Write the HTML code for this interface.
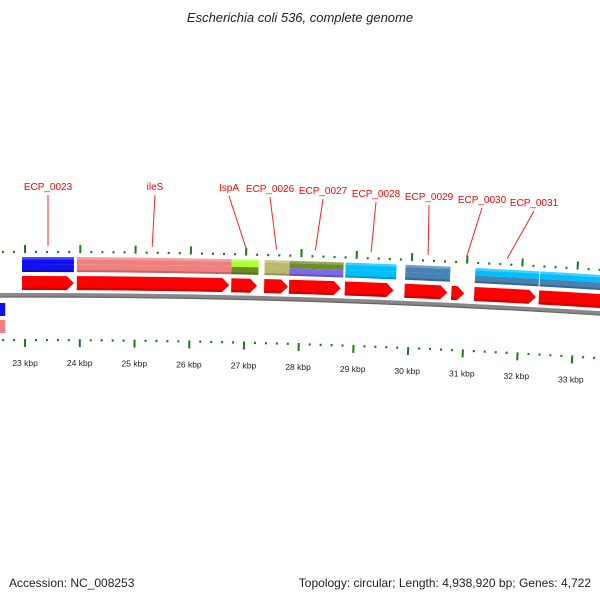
<!DOCTYPE html>
<html><head><meta charset="utf-8"><style>
html,body{margin:0;padding:0;background:#fff;}
svg{display:block;font-family:"Liberation Sans","DejaVu Sans",sans-serif;}
</style></head><body>
<svg id="map" width="600" height="600" viewBox="0 0 600 600" xmlns="http://www.w3.org/2000/svg">
<rect width="600" height="600" fill="#fff"/>
<text x="300" y="22" text-anchor="middle" font-size="13" font-style="italic" fill="#222">Escherichia coli 536, complete genome</text>
<text x="9" y="587" font-size="12" fill="#222">Accession: NC_008253</text>
<text x="591" y="587" text-anchor="end" font-size="12" fill="#222">Topology: circular; Length: 4,938,920 bp; Genes: 4,722</text>
<g id="layer"></g>
</svg>
<script>
// ---- data ----
const tickStartBp = 21800;
const tickEndBp = 34200;
const tickStepBp = 200;
const labelKbp = [23,24,25,26,27,28,29,30,31,32,33];
const cdsStart = [22946,23940,26743,27340,27792,28805,29890,30740,31156,32331];
const cdsEnd   = [23886,26707,27213,27774,28732,29690,30667,30975,32277,33900];
const cogStart = [22946,23940,26743,27340,27792,28805,29890,31156,32331];
const cogEnd   = [23886,26743,27231,27792,28769,29727,30704,32313,33900];
const cogTop   = ['#1010f0','#f08080','#adff2f','#bdb76b','#6b8e23','#00bfff','#4682b4','#00bfff','#00bfff'];
const cogBot   = ['#1010f0','#f08080','#6b8e23','#bdb76b','#7b68ee','#00bfff','#4682b4','#4682b4','#4682b4'];
const revStart = [21500,21500];
const revEnd   = [22640,22640];
const revColor = ['#1010f0','#f08080'];
const geneLabels = ['ECP_0023','ileS','IspA','ECP_0026','ECP_0027','ECP_0028','ECP_0029','ECP_0030','ECP_0031'];
const geneLabelBp = [23416,25300,27000,27550,28250,29260,30290,30990,31720];

// ---- geometry ----
const CX = 30, CY = 9295, R = 9000;
const REF_BP = 23000, REF_ANG = -0.000553, RAD_PER_BP = 6.114e-6;
function ang(bp){ return REF_ANG + (bp - REF_BP) * RAD_PER_BP; }
function px(r,a){ return [CX + r*Math.sin(a), CY - r*Math.cos(a)]; }
function P(r,a){ const p = px(r,a); return p[0].toFixed(2)+' '+p[1].toFixed(2); }
const NS = 'http://www.w3.org/2000/svg';
const layer = document.getElementById('layer');
function mk(tag, attrs){ const e = document.createElementNS(NS, tag); for (const k in attrs) e.setAttribute(k, attrs[k]); layer.appendChild(e); return e; }
function band(r1, r2, a1, a2){
  return 'M'+P(r2,a1)+' A'+r2+' '+r2+' 0 0 1 '+P(r2,a2)+' L'+P(r1,a2)+' A'+r1+' '+r1+' 0 0 0 '+P(r1,a1)+' Z';
}
function arrow(r1, r2, a1, a2){
  const h = 7 / R; const ah = Math.max(a1, a2 - h); const rm = (r1 + r2) / 2;
  return 'M'+P(r2,a1)+' A'+r2+' '+r2+' 0 0 1 '+P(r2,ah)+' L'+P(rm,a2)+' L'+P(r1,ah)+' A'+r1+' '+r1+' 0 0 0 '+P(r1,a1)+' Z';
}

// backbone
let bb = mk('path', {d: 'M'+P(R,ang(21000))+' A'+R+' '+R+' 0 0 1 '+P(R,ang(34500)), stroke:'#888', 'stroke-width':4, fill:'none'});


let bb2 = mk('path', {d: 'M'+P(R-2,ang(21000))+' A'+(R-2)+' '+(R-2)+' 0 0 1 '+P(R-2,ang(34500)), stroke:'#666', 'stroke-width':1.2, fill:'none'});



// ticks
for (let bp = tickStartBp; bp <= tickEndBp; bp += tickStepBp){
  const a = ang(bp); const major = (bp % 1000 === 0);
  const l1 = major ? 8 : 2.2;
  let t = mk('path', {d:'M'+P(9042,a)+' L'+P(9042+l1,a), stroke:'#1a7a1a', 'stroke-width':2, fill:'none'});
  
  
  let t2 = mk('path', {d:'M'+P(8956,a)+' L'+P(8956-l1,a), stroke:'#1a7a1a', 'stroke-width':2, fill:'none'});
  
  
}
labelKbp.forEach(k => {
  const p = px(8932, ang(k*1000));
  let t = mk('text', {x:p[0].toFixed(1), y:(p[1]+3).toFixed(1), 'text-anchor':'middle', 'font-size':8.5, fill:'#222'});
  t.textContent = k + ' kbp';
  
  
});

// reverse features
revStart.forEach((s,i) => {
  const r1 = i===0 ? 8979 : 8962, r2 = r1 + 13;
  let e = mk('path', {d: band(r1, r2, ang(s), ang(revEnd[i])), fill: revColor[i]});
  
  
});

// COG track
cogStart.forEach((s,i) => {
  const a1 = ang(s), a2 = ang(cogEnd[i]);
  let e = mk('path', {d: band(9030.5, 9038, a1, a2), fill: cogTop[i]});
  
  
  let e2 = mk('path', {d: band(9023, 9030.5, a1, a2), fill: cogBot[i]});
  
  
  let hl = mk('path', {d: band(9035.5, 9038, a1, a2), fill: '#fff', 'fill-opacity':0.25});
  
  
  let sh = mk('path', {d: band(9023, 9025, a1, a2), fill: '#000', 'fill-opacity':0.2});
  
  
});

// CDS track
cdsStart.forEach((s,i) => {
  const a1 = ang(s), a2 = ang(cdsEnd[i]);
  let e = mk('path', {d: arrow(9005, 9019, a1, a2), fill: '#ff0000'});
  
  
  let sh = mk('path', {d: band(9005, 9007.5, a1, a2 - 7/R), fill: '#900', 'fill-opacity':0.45});
  
  
});

// gene labels
const labelPos = [[48,189],[155,189],[229,190],[270,191],[323,193],[376,196],[429,199],[482,202],[534,205]];
geneLabels.forEach((g,i) => {
  const end = px(9046, ang(geneLabelBp[i]));
  const lp = labelPos[i];
  let ln = mk('path', {d:'M'+lp[0]+' '+(lp[1]+6)+' L'+end[0].toFixed(1)+' '+(end[1]-3).toFixed(1), stroke:'#ff2020', 'stroke-width':1, fill:'none'});
  
  
  let t = mk('text', {x:lp[0], y:lp[1]+1, 'text-anchor':'middle', 'font-size':10, fill:'#ff0000'});
  t.textContent = g;
  
  
});
</script>
</body></html>
